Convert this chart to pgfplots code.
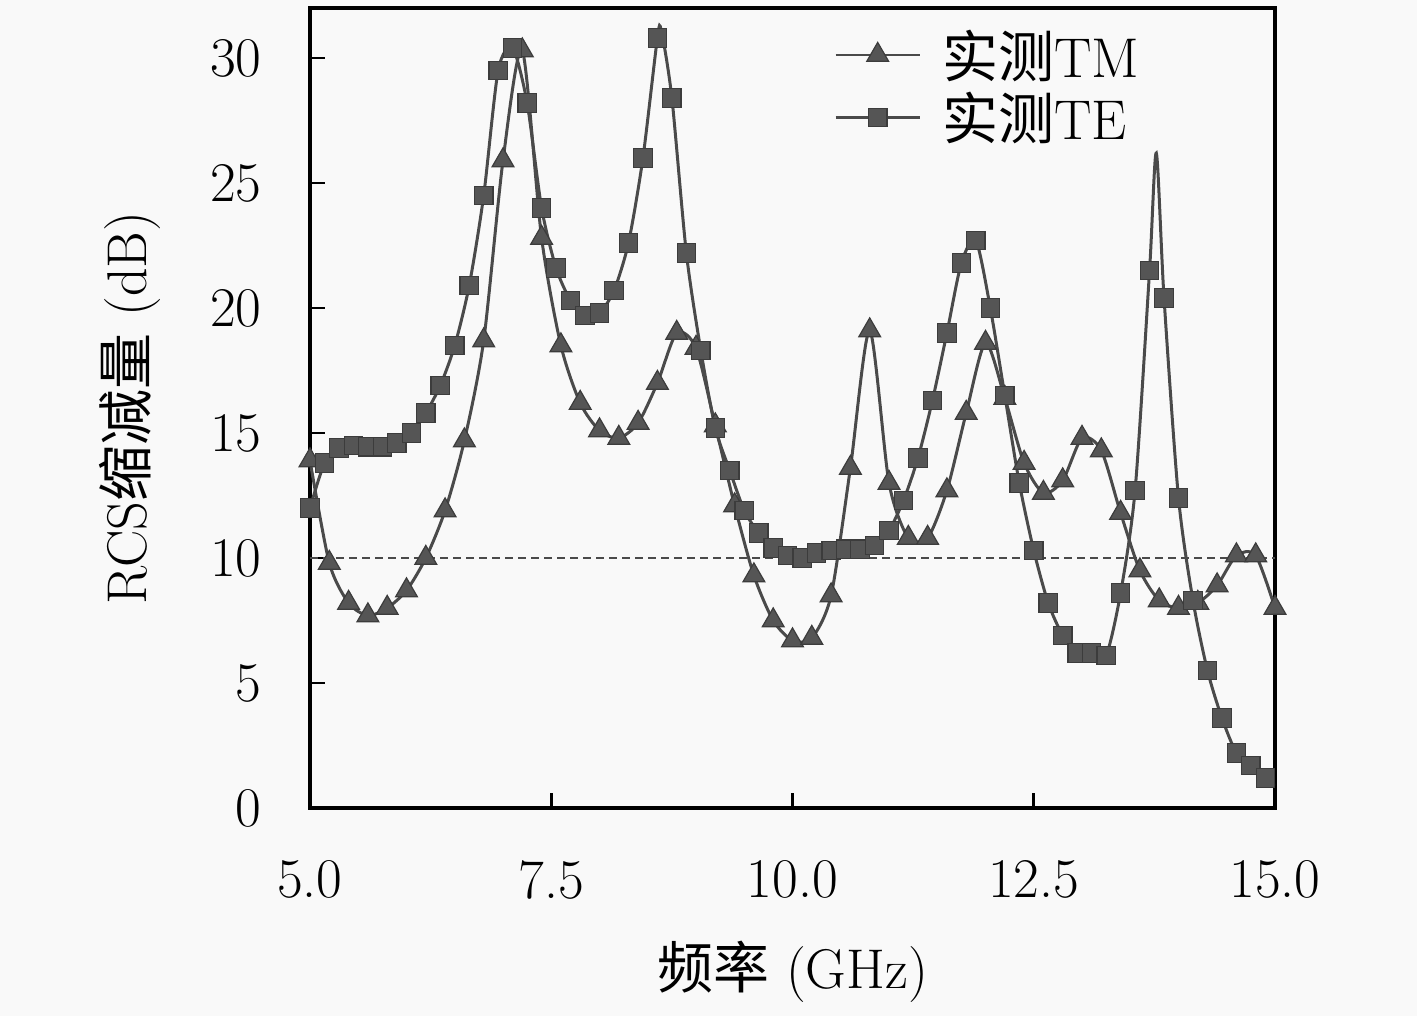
\documentclass[border=0pt]{standalone}
\usepackage{fontspec}
\usepackage{pgfplots}
\usepackage{pgfplotstable}
\pgfplotsset{compat=1.18}
\newfontfamily\cjk{Noto Sans CJK SC}
\definecolor{linecol}{HTML}{4A4A4A}
\definecolor{markfill}{HTML}{555555}
\definecolor{markedge}{HTML}{3C3C3C}
\definecolor{bgcol}{HTML}{F9F9F9}
\pgfplotsset{lmark/.style={legend image code/.code={\draw[linecol, line width=1.3pt] (0pt,0pt) -- (42pt,0pt); \draw[##1] plot coordinates {(21pt,0pt)};}}}

\pgfplotstableread{
x y
5.0 13.9
5.2 9.8
5.4 8.2
5.6 7.7
5.8 8.0
6.0 8.7
6.2 10.0
6.4 11.9
6.6 14.7
6.8 18.7
7.0 25.9
7.2 30.3
7.4 22.8
7.6 18.5
7.8 16.2
8.0 15.1
8.2 14.8
8.4 15.4
8.6 17.0
8.8 19.0
9.0 18.4
9.2 15.3
9.4 12.1
9.6 9.3
9.8 7.5
10.0 6.7
10.2 6.8
10.4 8.5
10.6 13.6
10.8 19.1
11.0 13.0
11.2 10.8
11.4 10.8
11.6 12.7
11.8 15.8
12.0 18.6
12.2 16.4
12.4 13.8
12.6 12.6
12.8 13.1
13.0 14.8
13.2 14.3
13.4 11.8
13.6 9.5
13.8 8.3
14.0 8.0
14.2 8.2
14.4 8.9
14.6 10.1
14.8 10.1
15.0 8.0
}\tmdata

\pgfplotstableread{
x y
5.00 12.0
5.15 13.8
5.30 14.4
5.45 14.5
5.60 14.45
5.75 14.45
5.90 14.6
6.05 15.0
6.20 15.8
6.35 16.9
6.50 18.5
6.65 20.9
6.80 24.5
6.95 29.5
7.10 30.4
7.25 28.2
7.40 24.0
7.55 21.6
7.70 20.3
7.85 19.7
8.00 19.8
8.15 20.7
8.30 22.6
8.45 26.0
8.60 30.8
8.75 28.4
8.90 22.2
9.05 18.3
9.20 15.2
9.35 13.5
9.50 11.9
9.65 11.0
9.80 10.4
9.95 10.1
10.10 10.0
10.25 10.2
10.40 10.3
10.55 10.35
10.70 10.35
10.85 10.5
11.00 11.1
11.15 12.3
11.30 14.0
11.45 16.3
11.60 19.0
11.75 21.8
11.90 22.7
12.05 20.0
12.20 16.5
12.35 13.0
12.50 10.3
12.65 8.2
12.80 6.9
12.95 6.2
13.10 6.2
13.25 6.1
13.40 8.6
13.55 12.7
13.70 21.5
13.85 20.4
14.00 12.4
14.15 8.3
14.30 5.5
14.45 3.6
14.60 2.2
14.75 1.7
14.90 1.2
}\temarks

\pgfplotstableread{
x y
5.00 12.0
5.15 13.8
5.30 14.4
5.45 14.5
5.60 14.45
5.75 14.45
5.90 14.6
6.05 15.0
6.20 15.8
6.35 16.9
6.50 18.5
6.65 20.9
6.80 24.5
6.95 29.5
7.10 30.4
7.25 28.2
7.40 24.0
7.55 21.6
7.70 20.3
7.85 19.7
8.00 19.8
8.15 20.7
8.30 22.6
8.45 26.0
8.60 30.8
8.64 31.1
8.75 28.4
8.90 22.2
9.05 18.3
9.20 15.2
9.35 13.5
9.50 11.9
9.65 11.0
9.80 10.4
9.95 10.1
10.10 10.0
10.25 10.2
10.40 10.3
10.55 10.35
10.70 10.35
10.85 10.5
11.00 11.1
11.15 12.3
11.30 14.0
11.45 16.3
11.60 19.0
11.75 21.8
11.90 22.7
12.05 20.0
12.20 16.5
12.35 13.0
12.50 10.3
12.65 8.2
12.80 6.9
12.95 6.2
13.10 6.2
13.25 6.1
13.40 8.6
13.55 12.7
13.70 21.5
13.77 26.2
13.85 20.4
14.00 12.4
14.15 8.3
14.30 5.5
14.45 3.6
14.60 2.2
14.75 1.7
14.90 1.2
15.00 0.9
}\teline

\begin{document}
\begin{tikzpicture}
\fill[bgcol] (-155pt,-104pt) rectangle (553.5pt,404pt);
\useasboundingbox (-155pt,-104pt) rectangle (553.5pt,404pt);
\begin{axis}[
  width=482.5pt, height=400pt, scale only axis,
  xmin=5, xmax=15, ymin=0, ymax=32,
  xtick={5,7.5,10,12.5,15},
  ytick={0,5,10,15,20,25,30},
  xtick pos=left, ytick pos=left,
  tick align=inside,
  major tick length=7.5pt,
  tick style={line width=1.3pt, black},
  axis line style={line width=1.8pt, black},
  /pgf/number format/assume math mode=true,
  ticklabel style={font=\fontsize{28}{32}\selectfont, inner sep=0pt},
  xticklabel style={/pgf/number format/.cd, fixed, fixed zerofill, precision=1, /tikz/.cd, yshift=-26pt},
  yticklabel style={xshift=-24pt},
  xlabel={{\cjk 频率} (GHz)},
  ylabel={RCS{\cjk 缩减量} (dB)},
  every axis x label/.style={at={(rel axis cs:0.5,-0.205)}, anchor=center, font=\fontsize{28}{32}\selectfont},
  every axis y label/.style={at={(rel axis cs:-0.1865,0.5)}, anchor=center, rotate=90, font=\fontsize{28}{32}\selectfont},
  legend style={at={(rel axis cs:0.543,0.977)}, anchor=north west, draw=none, fill=none,
    font=\fontsize{28}{30}\selectfont, row sep=3pt, column sep=9pt, inner sep=0pt,
    nodes={inner sep=1.5pt}, cells={anchor=west}},
  legend cell align=left,
]
\addplot[linecol, dash pattern=on 4pt off 2.5pt, forget plot, line width=1pt] coordinates {(5,10) (15,10)};
\addplot[linecol, line width=1.5pt, smooth, tension=0.45, forget plot] table[x=x,y=y] {\tmdata};
\addplot[linecol, line width=1.5pt, smooth, tension=0.45, forget plot] table[x=x,y=y] {\teline};
\addplot[only marks, mark=triangle*, mark size=6.3pt, mark options={fill=markfill, draw=markedge, line width=0.6pt}, lmark]
  table[x=x,y=y] {\tmdata};
\addlegendentry{{\cjk 实测}TM}
\addplot[only marks, mark=square*, mark size=4.6pt, mark options={fill=markfill, draw=markedge, line width=0.6pt}, lmark]
  table[x=x,y=y] {\temarks};
\addlegendentry{{\cjk 实测}TE}
\end{axis}
\end{tikzpicture}
\end{document}
